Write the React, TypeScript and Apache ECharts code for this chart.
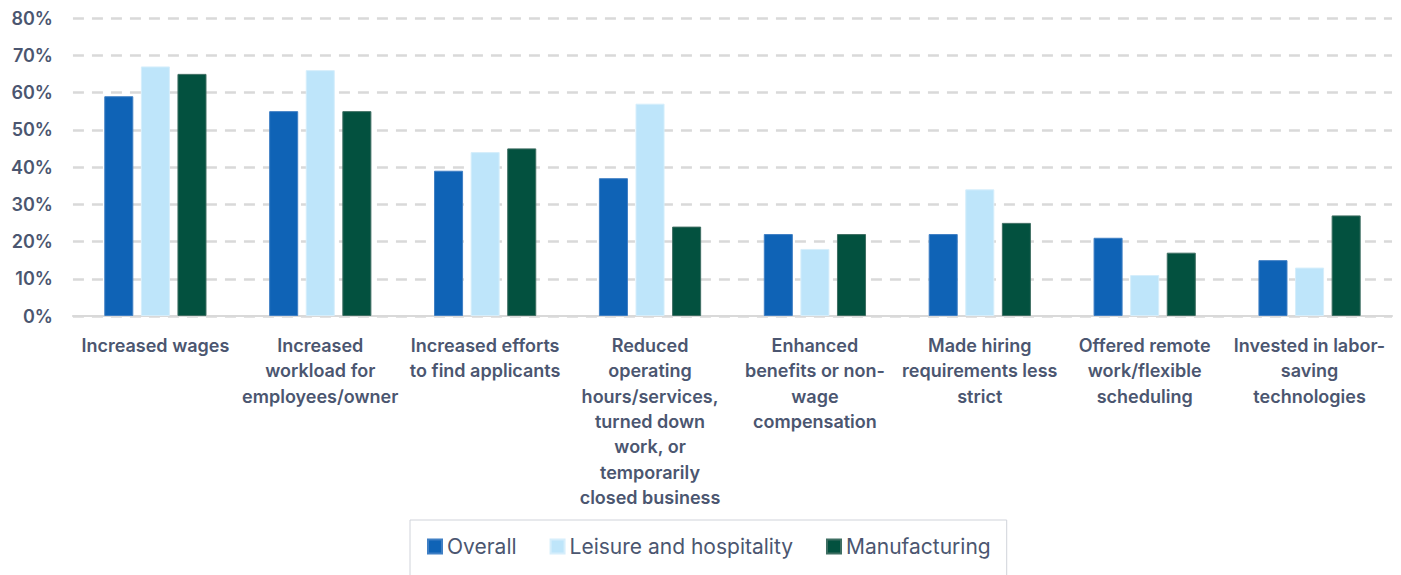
import React, { useEffect, useRef } from "react";
import * as echarts from "echarts";

const categories = [
  "Increased wages",
  "Increased\nworkload for\nemployees/owner",
  "Increased efforts\nto find applicants",
  "Reduced\noperating\nhours/services,\nturned down\nwork, or\ntemporarily\nclosed business",
  "Enhanced\nbenefits or non-\nwage\ncompensation",
  "Made hiring\nrequirements less\nstrict",
  "Offered remote\nwork/flexible\nscheduling",
  "Invested in labor-\nsaving\ntechnologies",
];
const overall = [59, 55, 39, 37, 22, 22, 21, 15];
const leisure = [67, 66, 44, 57, 18, 34, 11, 13];
const manufacturing = [65, 55, 45, 24, 22, 25, 17, 27];
const seriesNames = ["Overall", "Leisure and hospitality", "Manufacturing"];
const colors = ["#0F63B6", "#BEE5FA", "#03513F"];
const borders = ["#3F7FC4", "#D6EEFB", "#3E6E62"];

export default function App() {
  const ref = useRef<HTMLDivElement>(null);
  useEffect(() => {
    if (!ref.current) return;
    const chart = echarts.init(ref.current, undefined, { renderer: "svg" });
    const textColor = "#4B5670";
    const font = "Inter";
    const data = [overall, leisure, manufacturing];
    chart.setOption({
      animation: false,
      textStyle: { fontFamily: font },
      grid: { left: 60, right: 9, top: 10, bottom: 259, containLabel: false },
      legend: {
        data: seriesNames,
        left: 402,
        top: 512,
        borderColor: "#D0D3DA",
        borderWidth: 1,
        padding: [16, 16, 40, 17],
        itemWidth: 14,
        itemHeight: 14,
        itemGap: 33,
        icon: "rect",
        textStyle: { color: textColor, fontSize: 21, fontFamily: font },
      },
      xAxis: {
        type: "category",
        data: categories,
        axisLine: { lineStyle: { color: "#D9D9D9", width: 2 } },
        axisTick: { show: false },
        axisLabel: {
          interval: 0,
          color: textColor,
          fontSize: 18,
          fontWeight: 600,
          fontFamily: font,
          lineHeight: 25.3,
          margin: 17,
        },
      },
      yAxis: {
        type: "value",
        min: 0,
        max: 80,
        interval: 10,
        axisLabel: {
          formatter: "{value}%",
          color: textColor,
          fontSize: 18,
          fontWeight: 600,
          fontFamily: font,
          margin: 20,
        },
        axisLine: { show: false },
        axisTick: { show: false },
        splitLine: { lineStyle: { color: "#D9D9D9", width: 2.5, type: [11, 8] } },
      },
      series: seriesNames.map((name, i) => ({
        name,
        type: "bar",
        data: data[i],
        barGap: "26%",
        barCategoryGap: "38%",
        itemStyle: { color: colors[i], borderColor: borders[i], borderWidth: 1 },
      })),
    });
    return () => chart.dispose();
  }, []);
  return <div ref={ref} style={{ width: 1393, height: 567 }} />;
}
